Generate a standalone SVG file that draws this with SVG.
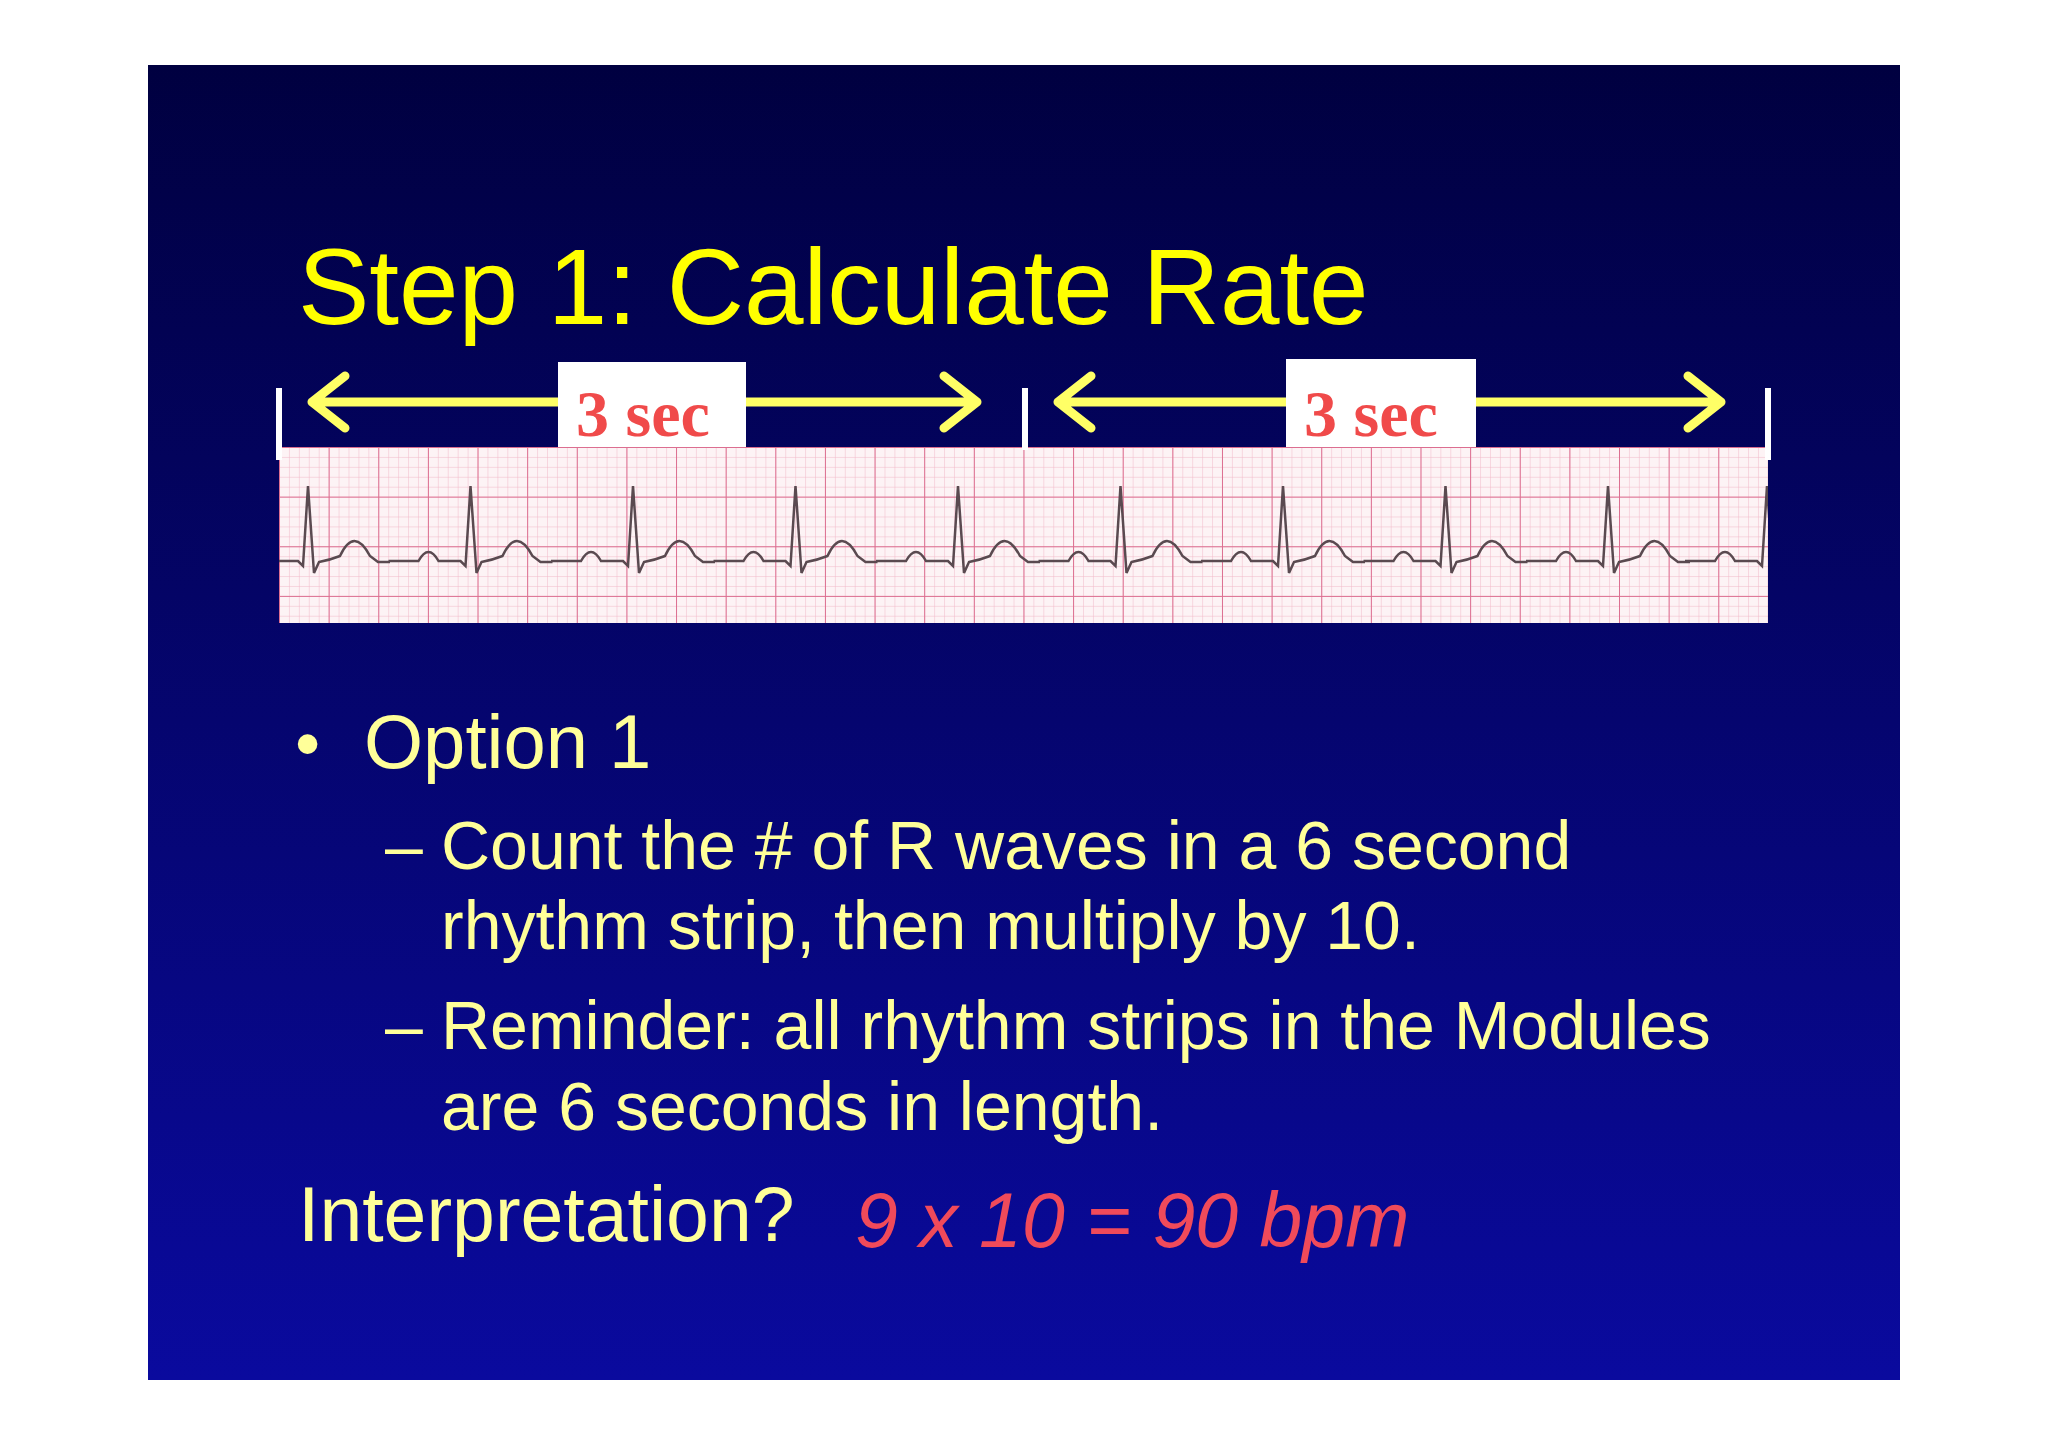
<svg xmlns="http://www.w3.org/2000/svg" xmlns:xlink="http://www.w3.org/1999/xlink" width="2048" height="1447" viewBox="0 0 2048 1447">
<defs>
<linearGradient id="bg" x1="0" y1="0" x2="0" y2="1"><stop offset="0" stop-color="#000040"/><stop offset="1" stop-color="#0a0a9e"/></linearGradient>
<pattern id="small" width="9.926" height="9.926" patternUnits="userSpaceOnUse" x="279" y="447"><path d="M0 0H9.926M0 0V9.926" stroke="#f2b8c8" stroke-width="1" fill="none"/></pattern>
<pattern id="big" width="49.63" height="49.63" patternUnits="userSpaceOnUse" x="279" y="447"><path d="M0 0H49.63M0 0V49.63" stroke="#dc6e90" stroke-width="2" fill="none"/></pattern>
<clipPath id="clip"><rect x="279" y="447" width="1489" height="176"/></clipPath>
<path id="beat" d="M-82 561 L-52 561 Q-42 543 -32 561 L-10 561 L-5 566 L0 486 L6 573 L11 562 Q22 560 32 556 Q46 526 62 556 L70 562 L82 562" fill="none" stroke="#5a4a50" stroke-width="2.5"/>
<style>
.t{font-family:"Liberation Sans",Arial,sans-serif;fill:#ffff99}
.lbl{font-family:"Liberation Serif","Times New Roman",serif;font-weight:bold;font-size:66px;fill:#f04a4a;text-anchor:middle}
.arr{stroke:#ffff66;stroke-width:9;fill:none;stroke-linecap:round;stroke-linejoin:round}
.tick{stroke:#ffffff;stroke-width:6}
</style>
</defs>
<rect width="2048" height="1447" fill="#fff"/>
<rect x="148" y="65" width="1752" height="1315" fill="url(#bg)"/>
<text class="t" x="298" y="324" font-size="107" style="fill:#ffff00">Step 1: Calculate Rate</text>
<g id="strip">
<rect x="279" y="447" width="1489" height="176" fill="#fdf3f5"/>
<rect x="279" y="447" width="1489" height="176" fill="url(#small)"/>
<rect x="279" y="447" width="1489" height="176" fill="url(#big)"/>
<g clip-path="url(#clip)">
<use xlink:href="#beat" x="308"/><use xlink:href="#beat" x="470.5"/><use xlink:href="#beat" x="633"/><use xlink:href="#beat" x="795.5"/><use xlink:href="#beat" x="958"/><use xlink:href="#beat" x="1120.5"/><use xlink:href="#beat" x="1283"/><use xlink:href="#beat" x="1445.5"/><use xlink:href="#beat" x="1608"/><use xlink:href="#beat" x="1767"/>
</g>
</g>
<g id="connectors">
<line class="tick" x1="279" y1="388" x2="279" y2="460"/>
<line class="tick" x1="1025" y1="388" x2="1025" y2="450"/>
<line class="tick" x1="1768" y1="388" x2="1768" y2="460"/>
<path class="arr" d="M312 402H977M345 376L312 402L345 428M944 376L977 402L944 428"/>
<path class="arr" d="M1058 402H1721M1091 376L1058 402L1091 428M1688 376L1721 402L1688 428"/>
</g>
<g id="label1"><rect x="558" y="362" width="188" height="85" fill="#fff"/><text class="lbl" x="643" y="436">3 sec</text></g>
<g id="label2"><rect x="1286" y="359" width="190" height="88" fill="#fff"/><text class="lbl" x="1371" y="436">3 sec</text></g>
<text class="t" x="295" y="768" font-size="72">•</text>
<text class="t" x="364" y="768" font-size="76">Option 1</text>
<text class="t" x="385" y="869" font-size="68">–</text>
<text class="t" x="441" y="869" font-size="68">Count the # of R waves in a 6 second</text>
<text class="t" x="441" y="949" font-size="68">rhythm strip, then multiply by 10.</text>
<text class="t" x="385" y="1049" font-size="68">–</text>
<text class="t" x="441" y="1049" font-size="68">Reminder: all rhythm strips in the Modules</text>
<text class="t" x="441" y="1130" font-size="68">are 6 seconds in length.</text>
<text class="t" x="298" y="1241" font-size="77">Interpretation?</text>
<text x="855" y="1247" font-size="77" font-style="italic" font-family="Liberation Sans,Arial,sans-serif" fill="#f04a5a">9 x 10 = 90 bpm</text>
</svg>
